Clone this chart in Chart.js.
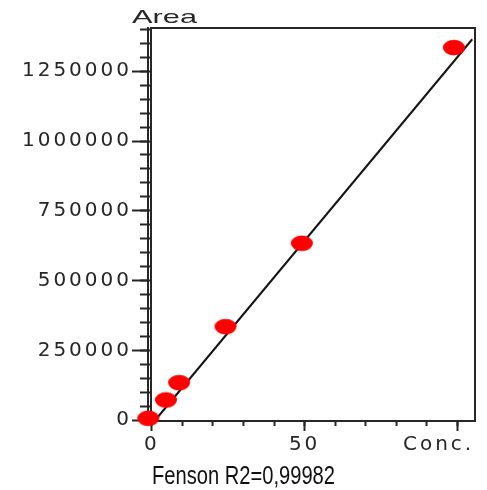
<!DOCTYPE html>
<html>
<head>
<meta charset="utf-8">
<script src="https://cdn.jsdelivr.net/npm/chart.js@4.4.1/dist/chart.umd.min.js"></script>
<style>
  html, body { margin: 0; padding: 0; background: #fff; }
  canvas { display: block; }
</style>
</head>
<body>
<canvas id="calib" width="487" height="490"></canvas>
<script>
// calibration standards (conc., area)
const concValues = [-1.2, 4.6, 8.9, 24.1, 49.1, 98.9];
const areaValues = [6800, 72400, 134400, 335000, 633800, 1334700];

// ends of the fitted calibration line
const fitConc = [1.6, 104.9];
const fitArea = [6800, 1364700];

// axes
const xMajorTicks = [0, 50, 100];
const xTickLabels = ["0", "50", "Conc."];
const xMajorStep = 50;
const xMinorStep = 10;
const yMajorStep = 250000;
const yMinorStep = 50000;
const xRange = [-0.3, 105.8];
const yRange = [-3000, 1405000];

const yTitle = "Area";
const caption = "Fenson R2=0,99982";

const INK = "#262626";
const TICK_FONT = { family: "'DejaVu Sans', sans-serif", size: 20 };

// red elliptical marker, the original uses squashed blobs instead of circles
function makeDot() {
  const c = document.createElement("canvas");
  c.width = 24;
  c.height = 17;
  const g = c.getContext("2d");
  g.fillStyle = "#ff0000";
  g.beginPath();
  g.ellipse(12, 8.5, 11, 7.8, 0, 0, Math.PI * 2);
  g.fill();
  return c;
}

// multiples of step inside the axis range (chart.js rounds the spacing
// when both min and max are fixed, so the ticks are set here instead)
function stepTicks(step) {
  return function (s) {
    const out = [];
    for (let v = Math.ceil(s.min / step) * step; v <= s.max; v += step) {
      out.push({ value: v });
    }
    s.ticks = out;
  };
}

// draws text squeezed/stretched to a given width
function drawFitted(ctx, text, font, cx, baseline, width, color) {
  ctx.save();
  ctx.letterSpacing = "0px";
  ctx.font = font;
  ctx.fillStyle = color;
  ctx.textAlign = "center";
  ctx.textBaseline = "alphabetic";
  const w = ctx.measureText(text).width;
  ctx.translate(cx, baseline);
  ctx.scale(width / w, 1);
  ctx.fillText(text, 0, 0);
  ctx.restore();
}

const textExtras = {
  id: "textExtras",
  // tick labels in the original are wide, spread them a bit
  beforeLayout(chart) { chart.ctx.letterSpacing = "3px"; },
  beforeDraw(chart) { chart.ctx.letterSpacing = "3px"; },
  afterDraw(chart) {
    const ctx = chart.ctx;
    const yAxis = chart.scales.y;
    drawFitted(ctx, yTitle, "19px 'Liberation Sans', Arial, sans-serif",
      yAxis.right + 16.5, 23, 65, INK);
    drawFitted(ctx, caption, "25px 'Liberation Sans Narrow', 'Liberation Sans', sans-serif",
      chart.width / 2, 484, 183, "#111");
  }
};

function noPadding(s) {
  s.paddingLeft = 0;
  s.paddingRight = 0;
  s.paddingTop = 0;
  s.paddingBottom = 0;
}

function hiddenAxis(position, range) {
  return {
    type: "linear",
    position: position,
    min: range[0],
    max: range[1],
    ticks: { display: false },
    grid: { display: false },
    border: { color: INK, width: 2 },
    afterFit(s) {
      if (position === "top") s.height = 0; else s.width = 0;
      noPadding(s);
    }
  };
}

const ctx = document.getElementById("calib").getContext("2d");
new Chart(ctx, {
  type: "scatter",
  data: {
    datasets: [
      {
        label: "Standards",
        data: concValues.map((c, i) => ({ x: c, y: areaValues[i] })),
        pointStyle: makeDot(),
        pointRadius: 11,
        clip: false,
        order: 0
      },
      {
        label: "Fit",
        data: fitConc.map((c, i) => ({ x: c, y: fitArea[i] })),
        showLine: true,
        borderColor: "#151515",
        borderWidth: 2,
        pointRadius: 0,
        order: 1
      }
    ]
  },
  options: {
    responsive: false,
    animation: false,
    devicePixelRatio: 1,
    layout: { padding: { top: 28, right: 11, bottom: 39, left: 0 } },
    plugins: { legend: { display: false }, tooltip: { enabled: false } },
    scales: {
      x: {
        type: "linear",
        position: "bottom",
        weight: 1,
        min: xRange[0],
        max: xRange[1],
        afterBuildTicks: stepTicks(xMajorStep),
        ticks: {
          autoSkip: false,
          maxRotation: 0,
          padding: 2,
          color: INK,
          font: TICK_FONT,
          callback: (v) => {
            const i = xMajorTicks.indexOf(v);
            if (i < 0) return "";
            // last label sits left of its tick in the original
            return v === 100 ? xTickLabels[i] + "    " : xTickLabels[i];
          }
        },
        grid: { drawOnChartArea: false, tickLength: 10, tickWidth: 2, tickColor: INK },
        border: { color: INK, width: 2 },
        afterFit(s) { s.height = 30; noPadding(s); }
      },
      xMinor: {
        type: "linear",
        position: "bottom",
        weight: 0,
        min: xRange[0],
        max: xRange[1],
        afterBuildTicks: stepTicks(xMinorStep),
        ticks: { display: false },
        grid: { drawOnChartArea: false, tickLength: 5, tickWidth: 2, tickColor: INK },
        border: { display: false },
        afterFit(s) { s.height = 0; noPadding(s); }
      },
      y: {
        type: "linear",
        position: "left",
        weight: 1,
        min: yRange[0],
        max: yRange[1],
        afterBuildTicks: stepTicks(yMajorStep),
        ticks: {
          autoSkip: false,
          padding: 0,
          color: INK,
          font: TICK_FONT,
          callback: (v) => String(v)
        },
        grid: { drawOnChartArea: false, tickLength: 16, tickWidth: 2, tickColor: INK },
        border: { color: INK, width: 2 },
        afterFit(s) { s.width = 148; noPadding(s); }
      },
      yMinor: {
        type: "linear",
        position: "left",
        weight: 0,
        min: yRange[0],
        max: yRange[1],
        afterBuildTicks: stepTicks(yMinorStep),
        ticks: { display: false },
        grid: { drawOnChartArea: false, tickLength: 11, tickWidth: 2, tickColor: INK },
        border: { color: INK, width: 2 },
        afterFit(s) { s.width = 3; noPadding(s); }
      },
      xTop: hiddenAxis("top", xRange),
      yRight: hiddenAxis("right", yRange)
    }
  },
  plugins: [textExtras]
});
</script>
</body>
</html>
